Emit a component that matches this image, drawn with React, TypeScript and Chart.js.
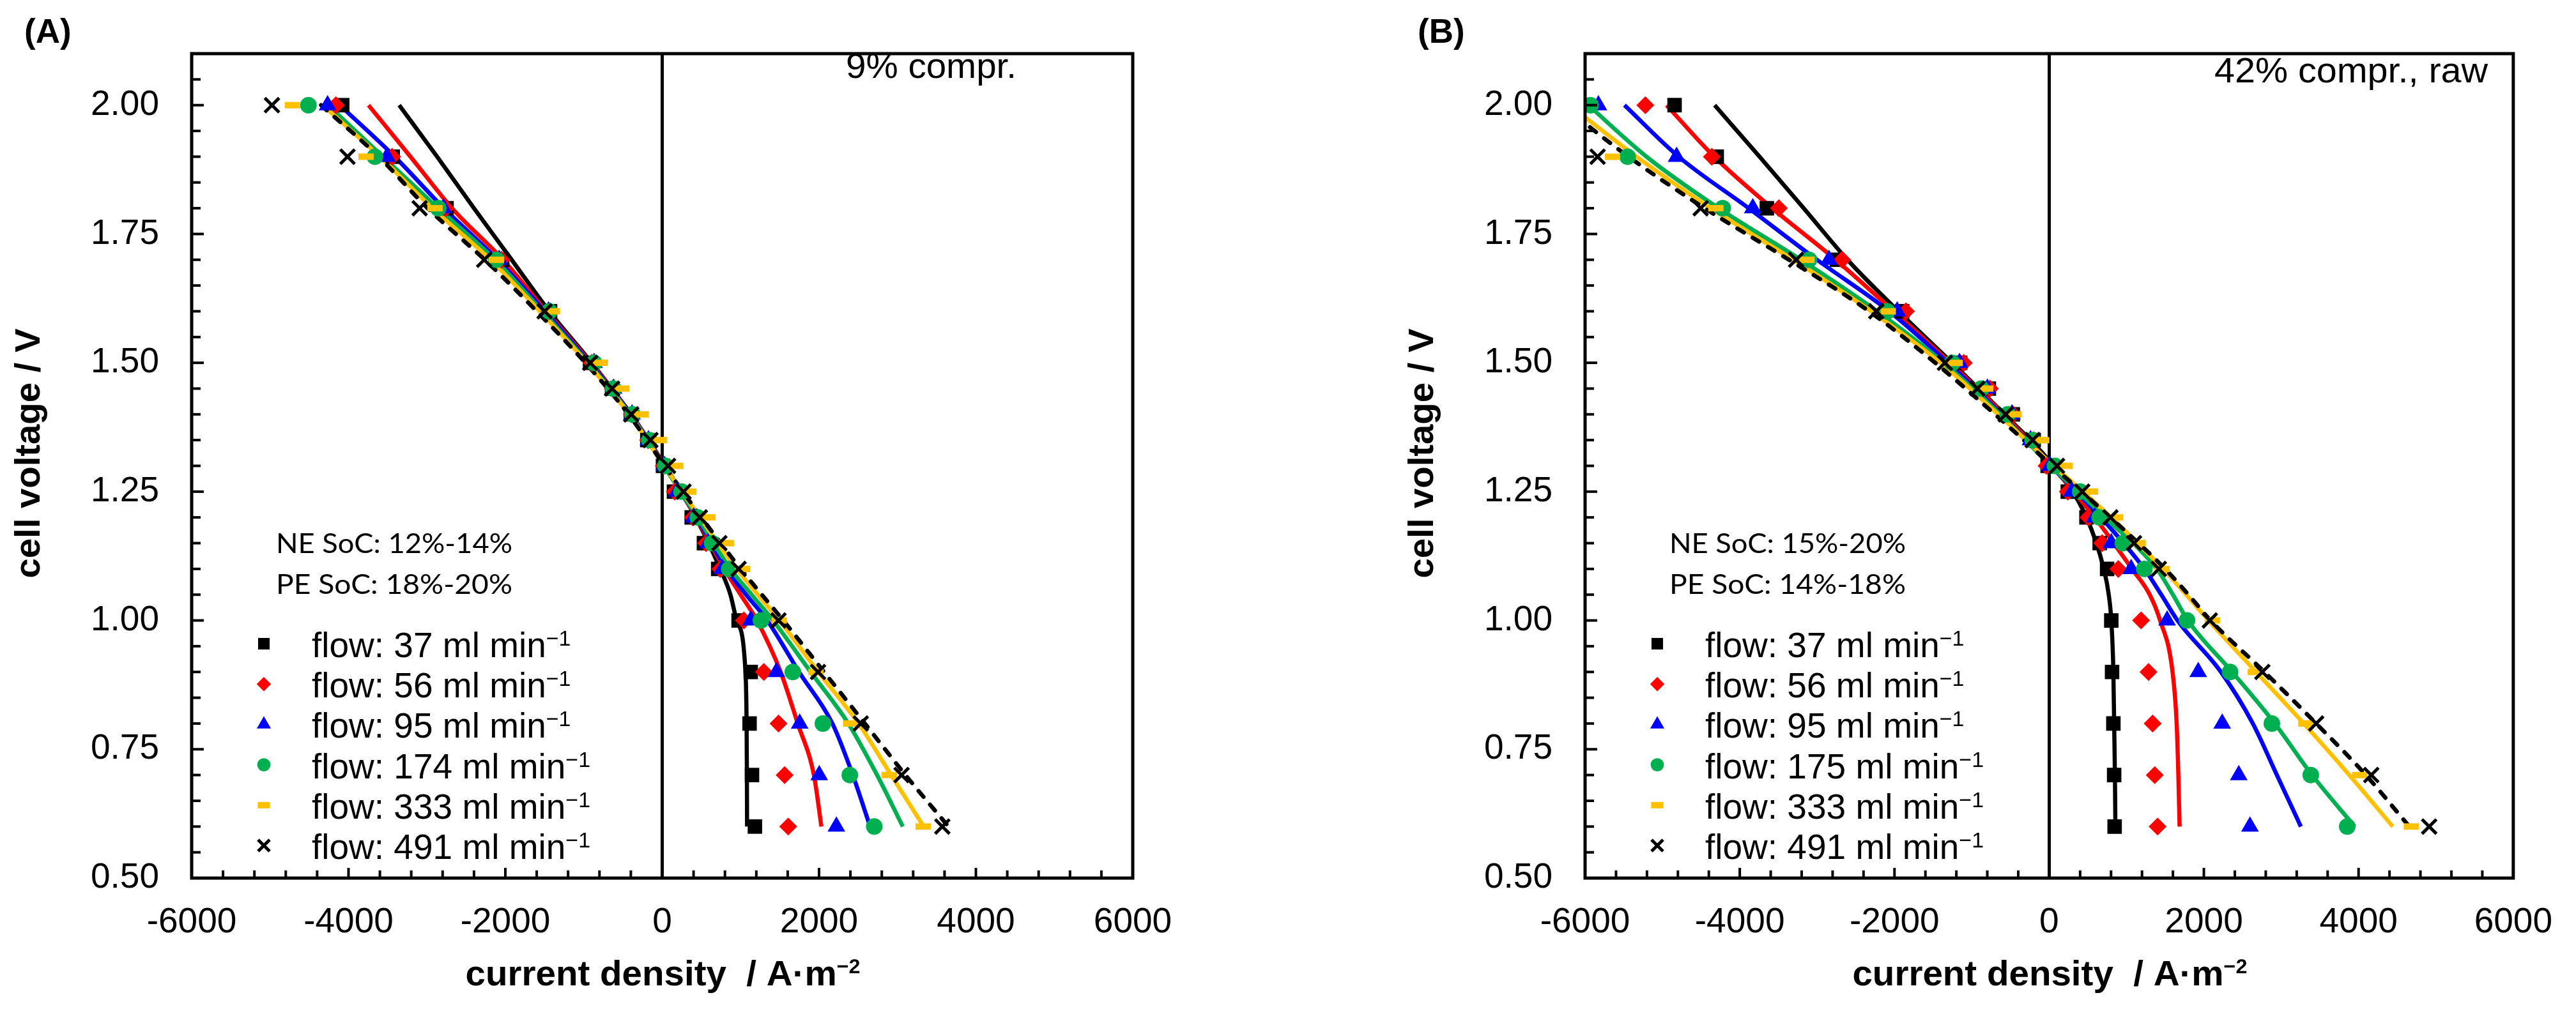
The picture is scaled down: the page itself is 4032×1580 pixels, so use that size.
import { useEffect, useRef } from "react"
import { Chart, registerables } from "chart.js"
import { drawPoint } from "chart.js/helpers"

Chart.register(...registerables)

// voltages of the measured points (V)
const MEASURED_V = [2.0, 1.9, 1.8, 1.7, 1.6, 1.5, 1.45, 1.4, 1.35, 1.3, 1.25, 1.2, 1.15, 1.1, 1.0, 0.9, 0.8, 0.7, 0.6]
// voltages of the model curves (V)
const MODEL_V = [2.0, 1.9, 1.8, 1.7, 1.6, 1.5, 1.4, 1.3, 1.2, 1.1, 1.05, 1.0, 0.9, 0.8, 0.7, 0.6]

// (A) 9% compression - measured current density / A m-2
const A_MEAS_37 = [-4080, -3436, -2750, -2040, -1430, -920, -640, -400, -190, 10, 150, 376, 532, 714, 974, 1129, 1114, 1145, 1182]
const A_MEAS_56 = [-4161, -3444, -2760, -2050, -1440, -900, -630, -390, -180, 20, 160, 390, 558, 740, 1041, 1296, 1483, 1561, 1607]
const A_MEAS_95 = [-4267, -3509, -2790, -2080, -1450, -869, -620, -385, -175, 30, 190, 402, 584, 766, 1130, 1457, 1753, 2002, 2221]
const A_MEAS_174 = [-4511, -3663, -2857, -2115, -1440, -869, -625, -381, -163, 40, 246, 454, 636, 854, 1259, 1665, 2049, 2392, 2704]
const A_MEAS_333 = [-4715, -3777, -2898, -2115, -1400, -788, -517, -267, -33, 173, 340, 584, 818, 1026, 1493, 1961, 2403, 2896, 3328]
const A_MEAS_491 = [-4976, -4013, -3093, -2270, -1500, -918, -639, -395, -150, 75, 272, 480, 729, 974, 1483, 1987, 2532, 3052, 3572]

// (A) model curves
const A_MODEL_37 = [-3354, -2870, -2400, -1920, -1440, -900, -400, 37, 428, 740, 870, 950, 1062, 1076, 1080, 1082]
const A_MODEL_56 = [-3745, -3210, -2680, -2030, -1480, -915, -395, 30, 430, 792, 1000, 1208, 1510, 1728, 1934, 2030]
const A_MODEL_95 = [-4112, -3411, -2784, -2100, -1500, -930, -400, 25, 440, 818, 1070, 1340, 1745, 2170, 2430, 2651]
const A_MODEL_174 = [-4260, -3562, -2857, -2133, -1530, -945, -410, 20, 450, 870, 1140, 1413, 1893, 2373, 2740, 3068]
const A_MODEL_333 = [-4330, -3600, -2930, -2190, -1560, -960, -420, 25, 480, 950, 1220, 1495, 1990, 2503, 2920, 3334]
const A_MODEL_491 = [-4350, -3615, -2991, -2263, -1600, -980, -430, 30, 500, 1000, 1270, 1544, 2063, 2584, 3102, 3650]

// (B) 42% compression, raw - measured
const B_MEAS_37 = [-4843, -4298, -3650, -2743, -1900, -1150, -780, -470, -200, -20, 241, 482, 653, 749, 803, 813, 830, 840, 846]
const B_MEAS_56 = [-5221, -4361, -3495, -2676, -1851, -1104, -766, -470, -200, -34, 241, 508, 685, 894, 1188, 1284, 1338, 1365, 1402]
const B_MEAS_95 = [-5828, -4817, -3832, -2847, -1965, -1159, -800, -481, -241, 10, 294, 589, 803, 1060, 1525, 1927, 2237, 2451, 2596]
const B_MEAS_175 = [-5930, -5450, -4221, -3106, -2095, -1253, -879, -536, -214, 75, 401, 653, 953, 1231, 1782, 2339, 2879, 3382, 3853]
const B_MEAS_333 = [null, -5646, -4309, -3132, -2080, -1215, -819, -454, -96, 207, 535, 856, 1151, 1460, 2110, 2665, 3318, 4014, 4683]
const B_MEAS_491 = [null, -5838, -4506, -3272, -2235, -1348, -928, -563, -214, 102, 428, 792, 1097, 1418, 2077, 2756, 3452, 4164, 4913]

// (B) model curves
const B_MODEL_37 = [-4325, -3744, -3173, -2608, -1950, -1256, -579, 53, 482, 706, 770, 803, 830, 840, 850, 856]
const B_MODEL_56 = [-4947, -4330, -3580, -2760, -2010, -1283, -593, 30, 589, 1070, 1300, 1434, 1595, 1648, 1670, 1686]
const B_MODEL_95 = [-5491, -4791, -3884, -3002, -2069, -1310, -620, 20, 669, 1231, 1450, 1659, 2221, 2633, 2944, 3254]
const B_MODEL_175 = [-5958, -5206, -4273, -3210, -2224, -1365, -633, 20, 722, 1391, 1600, 1793, 2366, 2917, 3399, 3950]
const B_MODEL_333 = [-6200, -5335, -4376, -3313, -2302, -1405, -660, 60, 800, 1472, 1770, 2060, 2676, 3291, 3880, 4442]
const B_MODEL_491 = [-6300, -5439, -4454, -3365, -2328, -1473, -701, 40, 790, 1499, 1800, 2087, 2783, 3452, 4094, 4656]

const FLOWS_A = ["37", "56", "95", "174", "333", "491"]
const FLOWS_B = ["37", "56", "95", "175", "333", "491"]

// axis ticks
const X_TICKS = Array.from({ length: 31 }, (_, i) => -6000 + i * 400)
const X_LABEL_STEP = 2000
const Y_TICKS = Array.from({ length: 33 }, (_, i) => Math.round((0.5 + i * 0.05) * 100) / 100)
const Y_LABEL_MAX = 2.0

const COLORS = ["#000000", "#FF0000", "#0000FF", "#00B050", "#FFC000", "#000000"]
const MARKERS = [
  { pointStyle: "rect", radius: 16, border: 0 },
  { pointStyle: "rectRot", radius: 14, border: 0 },
  { pointStyle: "triangle", radius: 16, border: 0 },
  { pointStyle: "circle", radius: 13, border: 0 },
  { pointStyle: "line", radius: 12, border: 10 },
  { pointStyle: "crossRot", radius: 16, border: 5 },
]

const FONT = "'Liberation Sans', Arial, sans-serif"
const SOC_FONT = "Lato, 'Open Sans', sans-serif"

const PANELS = [
  {
    tag: "(A)",
    note: "9% compr.",
    soc: ["NE SoC: 12%-14%", "PE SoC: 18%-20%"],
    flows: FLOWS_A,
    measured: [A_MEAS_37, A_MEAS_56, A_MEAS_95, A_MEAS_174, A_MEAS_333, A_MEAS_491],
    models: [A_MODEL_37, A_MODEL_56, A_MODEL_95, A_MODEL_174, A_MODEL_333, A_MODEL_491],
    layout: { left: 0, right: 243, noteDx: 1024, noteY: 122, noteW: 267 },
  },
  {
    tag: "(B)",
    note: "42% compr., raw",
    soc: ["NE SoC: 15%-20%", "PE SoC: 14%-18%"],
    flows: FLOWS_B,
    measured: [B_MEAS_37, B_MEAS_56, B_MEAS_95, B_MEAS_175, B_MEAS_333, B_MEAS_491],
    models: [B_MODEL_37, B_MODEL_56, B_MODEL_95, B_MODEL_175, B_MODEL_333, B_MODEL_491],
    layout: { left: 165, right: 77, noteDx: 985, noteY: 129, noteW: 428 },
  },
]

type Panel = (typeof PANELS)[number]
type Part = { text: string; font: string; rise: number }

const isMajorY = (v: number) => Math.round(v * 100) % 25 === 0

// draws a run of text parts (e.g. with superscripts), squeezed/stretched to a given width
function drawRun(ctx: CanvasRenderingContext2D, parts: Part[], x: number, y: number, width: number | null, align: "left" | "center") {
  const widths = parts.map((p) => {
    ctx.font = p.font
    return ctx.measureText(p.text).width
  })
  const natural = widths.reduce((s, w) => s + w, 0)
  const sx = width ? width / natural : 1
  const total = natural * sx
  ctx.save()
  ctx.translate(align === "center" ? x - total / 2 : x, y)
  ctx.scale(sx, 1)
  ctx.textAlign = "left"
  ctx.textBaseline = "alphabetic"
  let cx = 0
  parts.forEach((p, i) => {
    ctx.font = p.font
    ctx.fillText(p.text, cx, -p.rise)
    cx += widths[i]
  })
  ctx.restore()
}

function makeDecor(panel: Panel) {
  return {
    id: "decor",
    afterDatasetsDraw(chart: Chart) {
      const { ctx, chartArea: a } = chart
      const xs = chart.scales.x
      const ys = chart.scales.y
      ctx.save()
      ctx.strokeStyle = "#000"
      ctx.lineCap = "butt"
      ctx.lineWidth = 4
      // tick marks point into the plot
      xs.ticks.forEach((t) => {
        const px = xs.getPixelForValue(t.value)
        const len = t.value % X_LABEL_STEP === 0 ? 16 : 12
        ctx.beginPath()
        ctx.moveTo(px, a.bottom)
        ctx.lineTo(px, a.bottom - len)
        ctx.stroke()
      })
      ys.ticks.forEach((t) => {
        const py = ys.getPixelForValue(t.value)
        const len = isMajorY(t.value) ? 19 : 14
        ctx.beginPath()
        ctx.moveTo(a.left, py)
        ctx.lineTo(a.left + len, py)
        ctx.stroke()
      })
      ctx.lineWidth = 5
      ctx.strokeRect(a.left, a.top, a.right - a.left, a.bottom - a.top)
      ctx.restore()
    },
    afterDraw(chart: Chart) {
      const { ctx, chartArea: a } = chart
      ctx.save()
      ctx.fillStyle = "#000"

      drawRun(ctx, [{ text: panel.tag, font: `bold 53px ${FONT}`, rise: 0 }], a.left - 262, 67, null, "left")
      drawRun(ctx, [{ text: panel.note, font: `56px ${FONT}`, rise: 0 }], a.left + panel.layout.noteDx, panel.layout.noteY, panel.layout.noteW, "left")

      drawRun(ctx, [{ text: panel.soc[0], font: `42px ${SOC_FONT}`, rise: 0 }], a.left + 132, a.top + 782, 370, "left")
      drawRun(ctx, [{ text: panel.soc[1], font: `42px ${SOC_FONT}`, rise: 0 }], a.left + 132, a.top + 846, 370, "left")

      // legend
      panel.flows.forEach((flow, i) => {
        const cy = a.top + 924 + i * 63.2
        const m = MARKERS[i]
        ctx.save()
        ctx.fillStyle = COLORS[i]
        ctx.strokeStyle = COLORS[i]
        ctx.lineWidth = m.border
        drawPoint(ctx, { pointStyle: m.pointStyle, radius: m.radius * 0.8, rotation: 0, borderWidth: m.border }, a.left + 113, cy)
        ctx.restore()
        drawRun(
          ctx,
          [
            { text: `flow: ${flow} ml min`, font: `55px ${FONT}`, rise: 0 },
            { text: "\u22121", font: `34px ${FONT}`, rise: 18 },
          ],
          a.left + 188,
          cy + 21,
          null,
          "left"
        )
      })

      // axis titles
      drawRun(
        ctx,
        [
          { text: "current density  / A\u00b7m", font: `bold 56px ${FONT}`, rise: 0 },
          { text: "\u22122", font: `bold 32px ${FONT}`, rise: 19 },
        ],
        (a.left + a.right) / 2 + 1,
        a.bottom + 168,
        618,
        "center"
      )

      ctx.save()
      ctx.translate(a.left - 238, a.top + 626)
      ctx.rotate(-Math.PI / 2)
      drawRun(ctx, [{ text: "cell voltage / V", font: `bold 56px ${FONT}`, rise: 0 }], 0, 0, 391, "center")
      ctx.restore()

      ctx.restore()
    },
  }
}

function buildConfig(panel: Panel) {
  const datasets: any[] = []
  panel.models.forEach((curve, i) => {
    datasets.push({
      label: `model ${panel.flows[i]}`,
      data: MODEL_V.map((v, k) => ({ x: curve[k], y: v })),
      showLine: true,
      pointRadius: 0,
      borderColor: COLORS[i],
      backgroundColor: COLORS[i],
      borderWidth: 6.5,
      borderDash: i === 5 ? [12, 16] : [],
      borderCapStyle: i === 5 ? "round" : "butt",
      cubicInterpolationMode: "monotone",
      fill: false,
      order: 20 + (5 - i),
    })
  })
  panel.measured.forEach((vals, i) => {
    const m = MARKERS[i]
    datasets.push({
      label: `flow: ${panel.flows[i]} ml min\u207b\u00b9`,
      data: MEASURED_V.map((v, k) => ({ x: vals[k], y: v })).filter((p) => p.x !== null),
      showLine: false,
      pointStyle: m.pointStyle,
      pointRadius: m.radius,
      pointBackgroundColor: COLORS[i],
      pointBorderColor: COLORS[i],
      pointBorderWidth: m.border,
      order: 5 - i,
    })
  })

  const tickFont = { family: FONT, size: 55 }

  return {
    type: "scatter",
    data: { datasets },
    options: {
      responsive: false,
      animation: false,
      events: [],
      layout: { padding: { left: panel.layout.left, right: panel.layout.right, top: 52, bottom: 0 } },
      plugins: {
        legend: { display: false },
        tooltip: { enabled: false },
      },
      scales: {
        x: {
          type: "linear",
          min: -6000,
          max: 6000,
          afterBuildTicks: (s: any) => {
            s.ticks = X_TICKS.map((value) => ({ value }))
          },
          afterFit: (s: any) => {
            s.height = 205
          },
          ticks: {
            autoSkip: false,
            maxRotation: 0,
            padding: 37,
            color: "#000",
            font: tickFont,
            callback: (v: number) => (v % X_LABEL_STEP === 0 ? String(v) : ""),
          },
          grid: {
            drawTicks: false,
            drawOnChartArea: true,
            color: (c: any) => (c.tick && c.tick.value === 0 ? "#000" : "rgba(0,0,0,0)"),
            lineWidth: (c: any) => (c.tick && c.tick.value === 0 ? 5 : 0),
          },
          border: { display: false },
        },
        y: {
          type: "linear",
          min: 0.5,
          max: 2.1,
          afterBuildTicks: (s: any) => {
            s.ticks = Y_TICKS.map((value) => ({ value }))
          },
          afterFit: (s: any) => {
            s.width = 300
          },
          ticks: {
            autoSkip: false,
            padding: 51,
            color: "#000",
            font: tickFont,
            callback: (v: number) => (isMajorY(v) && v <= Y_LABEL_MAX + 1e-9 ? v.toFixed(2) : ""),
          },
          grid: { display: false, drawTicks: false },
          border: { display: false },
        },
      },
    },
    plugins: [makeDecor(panel)],
  }
}

function PanelChart({ panel, left }: { panel: Panel; left: number }) {
  const chartRef = useRef<HTMLCanvasElement>(null)

  useEffect(() => {
    if (!chartRef.current) return
    const chart = new Chart(chartRef.current, buildConfig(panel) as any)
    return () => {
      chart.destroy()
    }
  }, [panel])

  return (
    <canvas
      ref={chartRef}
      width={2016}
      height={1580}
      style={{ position: "absolute", left, top: 0, width: 2016, height: 1580 }}
    />
  )
}

export default function App() {
  return (
    <div style={{ position: "fixed", left: 0, top: 0, width: 4032, height: 1580, background: "#fff" }}>
      <PanelChart panel={PANELS[0]} left={0} />
      <PanelChart panel={PANELS[1]} left={2016} />
    </div>
  )
}
